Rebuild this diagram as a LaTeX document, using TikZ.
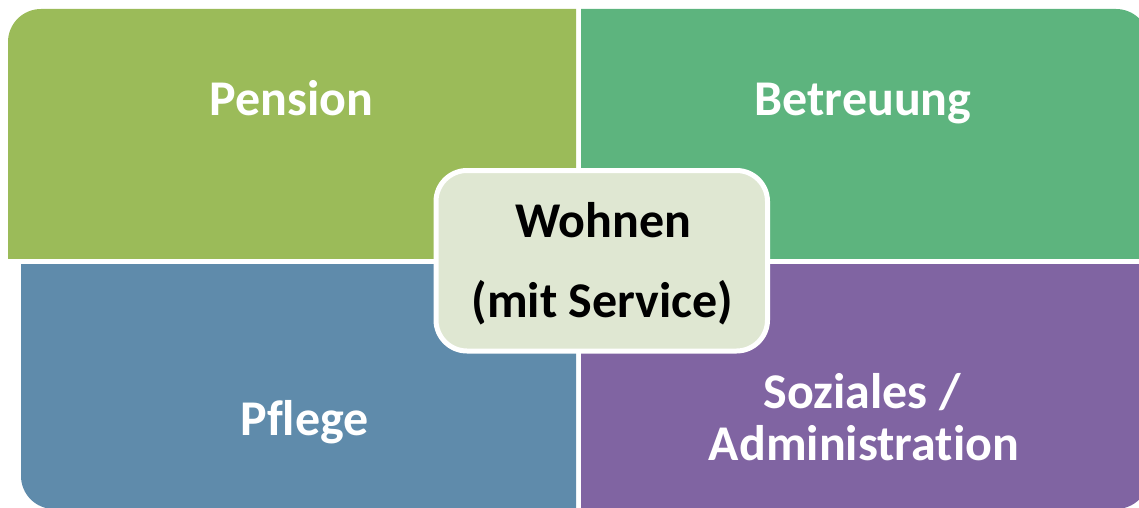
\documentclass[tikz,border=0pt]{standalone}
\usepackage{fontspec}
\setmainfont{Carlito}[Ligatures=NoCommon]
\definecolor{cPension}{HTML}{9BBB59}
\definecolor{cBetreuung}{HTML}{5DB47E}
\definecolor{cPflege}{HTML}{5F8BAB}
\definecolor{cSozial}{HTML}{8064A2}
\definecolor{cCenter}{HTML}{DFE7D2}
\tikzset{
  lbl/.style={font=\fontsize{50}{55}\selectfont\bfseries, text=white, anchor=base, inner sep=0pt},
  clbl/.style={lbl, text=black},
}
\begin{document}
\begin{tikzpicture}[x=1pt,y=-1pt]
\useasboundingbox (0,0) rectangle (1139,508);
% quadrants
\begin{scope}
  \clip (8,9) rectangle (576,258);
  \fill[cPension, rounded corners=33pt] (8,9) rectangle (800,400);
\end{scope}
\begin{scope}
  \clip (581,9) rectangle (1149,258);
  \fill[cBetreuung, rounded corners=33pt] (300,9) rectangle (1149,400);
\end{scope}
\begin{scope}
  \clip (21,264) rectangle (576,509);
  \fill[cPflege, rounded corners=33pt] (21,100) rectangle (800,509);
\end{scope}
\begin{scope}
  \clip (581,264) rectangle (1149,509);
  \fill[cSozial, rounded corners=33pt] (300,100) rectangle (1149,509);
\end{scope}
% centre box
\draw[white, line width=5pt, fill=cCenter, rounded corners=31pt] (436,170.5) rectangle (767.5,351);
% labels
\node[lbl] (pension) at (291.5,115) {Pension};
\node[lbl] (betreuung) at (863,115) {Betreuung};
\node[lbl] (pflege) at (304.5,435) {Pflege};
\node[lbl] (soziales) at (862,408) {Soziales /};
\node[lbl] (admin) at (864,460) {Administration};
\node[clbl] (wohnen) at (603,237) {Wohnen};
\node[clbl] (service) at (602.5,317) {(mit Service)};
\end{tikzpicture}
\end{document}
